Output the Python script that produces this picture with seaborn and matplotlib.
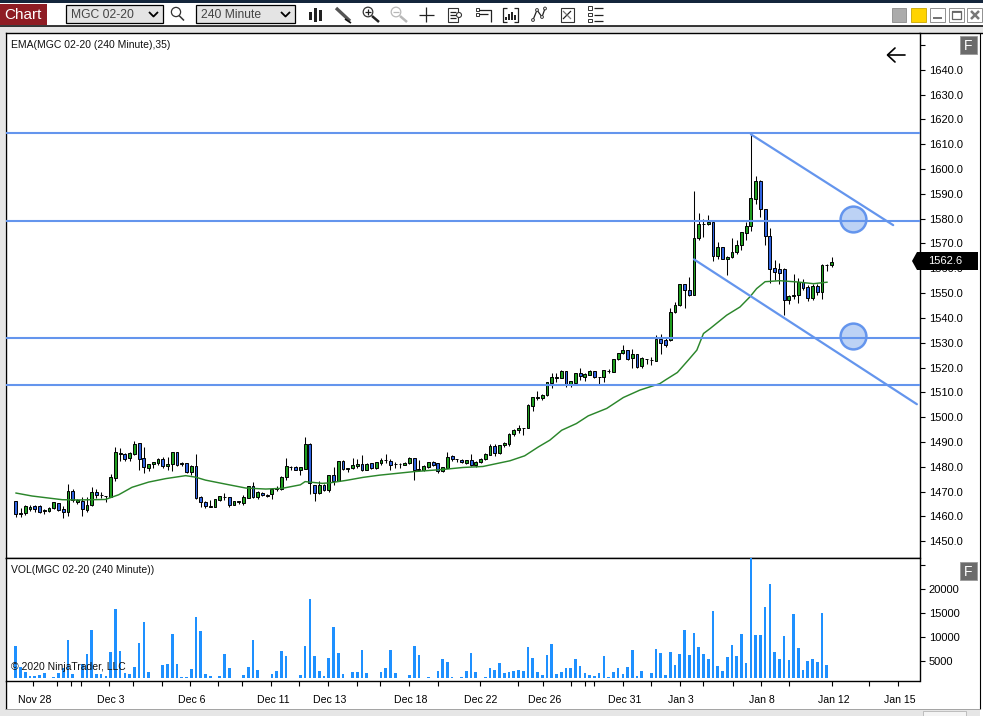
import numpy as np
import pandas as pd
import matplotlib
matplotlib.use("Agg")
import matplotlib.pyplot as plt
from matplotlib.patches import Rectangle, Polygon, Circle
from matplotlib.transforms import ScaledTranslation
import seaborn as sns

# ---------- data ----------
opens = [1466.0,1461.2,1461.3,1462.9,1464.0,1464.1,1462.3,1462.3,1463.2,1465.4,1462.9,1461.6,1470.1,1465.8,1466.0,1462.4,1464.4,1469.7,1468.7,1468.0,
1467.9,1475.4,1485.1,1485.1,1483.4,1485.2,1489.4,1483.4,1479.6,1480.9,1481.6,1483.2,1480.4,1480.9,1485.8,1481.2,1481.3,1478.0,1480.1,1467.6,
1465.9,1463.9,1463.9,1466.7,1467.8,1467.6,1464.7,1465.9,1465.5,1467.5,1472.3,1467.9,1469.4,1468.7,1468.9,1471.2,1470.9,1475.8,1479.9,1479.7,
1478.8,1479.1,1489.0,1472.5,1469.3,1472.5,1470.5,1476.6,1474.3,1482.2,1478.9,1479.3,1480.2,1481.0,1478.8,1481.3,1479.3,1481.4,1482.6,1482.2,
1481.0,1480.9,1480.6,1481.4,1483.5,1478.8,1478.6,1479.7,1482.1,1481.3,1478.2,1479.6,1484.5,1483.0,1482.9,1481.7,1482.9,1480.6,1482.0,1483.1,
1484.8,1488.3,1485.6,1488.6,1489.1,1493.0,1494.9,1495.7,1495.7,1504.5,1507.8,1507.8,1508.8,1513.8,1515.9,1515.8,1518.5,1512.9,1513.7,1517.7,
1516.2,1516.9,1518.5,1516.1,1516.2,1518.5,1518.2,1523.5,1525.9,1527.2,1523.7,1525.4,1520.5,1523.4,1523.0,1522.7,1531.4,1531.0,1531.0,1542.2,
1545.0,1553.8,1551.4,1549.4,1572.2,1577.9,1577.9,1578.7,1565.0,1568.7,1563.9,1564.6,1566.6,1569.4,1574.3,1577.1,1588.0,1595.3,1584.1,1573.2,
1560.3,1559.9,1559.9,1547.1,1549.0,1549.3,1554.6,1552.4,1547.9,1553.0,1550.6,1561.4,1561.5]
highs = [1466.0,1463.3,1464.6,1464.6,1464.7,1464.6,1463.1,1463.6,1465.6,1465.4,1464.1,1472.9,1471.0,1467.0,1467.9,1467.9,1471.8,1470.9,1469.8,1468.0,
1476.9,1487.8,1487.5,1485.4,1485.9,1490.2,1489.4,1487.8,1480.9,1482.0,1483.4,1484.0,1484.0,1485.8,1485.8,1481.9,1481.6,1480.7,1485.1,1468.2,
1466.2,1466.6,1467.1,1468.0,1469.3,1467.6,1466.2,1466.2,1468.4,1472.3,1473.8,1470.3,1469.8,1468.9,1471.4,1472.1,1476.1,1483.6,1480.3,1480.3,
1479.7,1491.8,1489.4,1472.5,1474.2,1472.9,1476.6,1480.0,1482.2,1482.7,1479.6,1483.5,1483.3,1484.7,1481.3,1481.3,1481.8,1483.7,1485.1,1483.3,
1482.0,1481.3,1481.8,1484.0,1483.7,1482.9,1480.6,1482.1,1482.2,1481.6,1480.0,1485.9,1484.7,1483.3,1483.3,1482.9,1485.1,1482.2,1483.7,1485.6,
1489.1,1489.1,1488.7,1490.0,1493.4,1495.4,1497.0,1495.8,1505.1,1508.2,1510.5,1509.2,1514.3,1517.7,1517.6,1518.8,1518.5,1514.5,1517.8,1519.6,
1517.8,1518.9,1518.5,1516.2,1518.9,1519.2,1523.6,1525.9,1529.0,1527.2,1527.6,1525.4,1524.3,1523.6,1524.3,1533.0,1533.7,1532.3,1543.8,1546.5,
1553.8,1553.8,1556.3,1591.0,1582.4,1579.8,1581.4,1579.6,1570.5,1568.7,1564.8,1572.4,1571.3,1574.7,1578.6,1613.7,1597.1,1595.7,1584.1,1576.4,
1563.5,1562.2,1560.3,1549.1,1557.5,1555.9,1555.5,1553.2,1553.8,1553.8,1561.9,1561.9,1564.5]
lows = [1459.9,1459.6,1460.5,1462.3,1461.9,1461.5,1461.1,1461.9,1463.1,1462.3,1459.5,1460.1,1465.9,1465.1,1460.1,1461.9,1464.1,1467.5,1467.5,1465.9,
1467.6,1474.4,1482.4,1482.4,1482.4,1484.8,1478.7,1477.3,1478.3,1479.6,1480.7,1479.6,1478.7,1478.4,1480.4,1480.3,1477.6,1476.6,1467.1,1463.9,
1463.5,1463.9,1463.7,1466.2,1466.6,1463.9,1464.6,1464.8,1464.7,1467.4,1467.2,1467.1,1468.2,1467.9,1467.1,1470.2,1470.6,1474.6,1478.7,1478.7,
1476.6,1478.9,1469.0,1466.3,1469.0,1470.3,1470.0,1472.6,1474.2,1478.6,1477.7,1478.9,1479.3,1478.4,1478.6,1478.9,1479.0,1480.6,1481.7,1478.6,
1479.6,1479.3,1480.5,1481.0,1474.6,1478.2,1478.4,1479.3,1480.2,1477.5,1478.0,1479.3,1482.4,1481.8,1481.6,1481.0,1480.2,1480.0,1481.3,1482.7,
1484.7,1484.4,1485.3,1488.0,1488.3,1492.3,1493.4,1492.7,1495.5,1502.5,1507.1,1507.1,1508.4,1511.8,1514.2,1515.6,1512.2,1512.2,1513.5,1514.9,
1514.5,1516.8,1515.8,1513.5,1514.1,1517.6,1518.0,1523.2,1525.6,1522.9,1519.6,1520.0,1519.6,1521.6,1520.9,1522.5,1525.6,1528.3,1530.7,1541.8,
1544.9,1543.8,1548.7,1549.3,1571.6,1572.6,1577.3,1563.0,1563.9,1563.8,1557.2,1564.3,1565.9,1567.3,1571.3,1575.1,1586.1,1580.6,1569.3,1554.1,
1555.2,1553.8,1541.1,1545.5,1547.8,1546.0,1551.2,1547.0,1547.4,1549.1,1547.6,1558.9,1560.6]
closes = [1461.1,1461.1,1464.0,1463.9,1463.1,1461.9,1462.5,1463.5,1465.6,1462.5,1461.9,1470.1,1466.4,1466.6,1462.8,1464.6,1469.7,1468.4,1468.8,1468.0,
1475.7,1485.8,1485.4,1483.2,1485.5,1489.1,1483.2,1480.0,1480.9,1481.9,1483.0,1480.4,1480.9,1485.8,1480.8,1481.3,1478.0,1480.3,1467.5,1465.6,
1464.1,1464.1,1466.8,1468.0,1467.9,1464.7,1466.2,1466.0,1467.8,1472.1,1467.8,1469.8,1468.7,1468.2,1471.0,1471.3,1475.8,1480.1,1480.0,1478.8,
1479.7,1489.0,1473.3,1469.3,1472.5,1470.7,1476.6,1474.3,1482.2,1478.9,1479.6,1480.5,1480.9,1478.6,1481.2,1479.3,1481.8,1482.7,1482.7,1480.6,
1481.1,1481.2,1481.7,1483.5,1478.6,1478.9,1480.2,1482.1,1480.6,1478.4,1479.7,1484.1,1483.2,1483.2,1482.0,1482.8,1480.6,1482.0,1483.3,1485.1,
1488.3,1485.6,1488.6,1489.6,1493.0,1495.0,1495.8,1495.8,1504.8,1508.0,1508.3,1509.1,1514.3,1516.1,1516.0,1518.5,1512.9,1514.5,1517.8,1516.6,
1517.3,1518.5,1516.2,1516.2,1518.9,1518.6,1523.6,1525.8,1527.2,1523.5,1525.4,1520.3,1523.7,1523.5,1523.1,1531.4,1529.7,1529.0,1542.2,1545.0,
1553.8,1551.4,1549.1,1572.4,1578.0,1578.0,1578.7,1565.0,1568.7,1563.8,1564.7,1566.7,1569.2,1574.5,1577.2,1588.5,1595.3,1584.1,1573.0,1559.9,
1558.5,1558.2,1547.1,1549.0,1549.4,1554.6,1552.1,1547.9,1552.8,1550.5,1561.5,1561.5,1562.6]
volume = [8137,3765,2724,1960,1960,2099,2515,1475,1752,2515,3487,9386,2307,1475,4389,6471,11468,2307,2307,1960,
6888,15840,7096,2515,2307,3765,8761,13134,2724,1475,1475,4181,4389,10635,4389,1683,1683,3348,14175,11260,
2307,1891,1475,1891,6471,3557,1475,1475,2099,3765,9386,3140,1475,1475,2307,2932,7096,6055,1475,1475,
2099,8137,17922,6055,2932,1891,5638,12093,6679,2307,1475,2724,2724,7304,2515,1475,1475,2724,3557,7304,
2515,1475,1475,2099,8137,6263,1475,1683,1475,2932,5430,4805,1683,1475,1683,2932,6679,2724,1475,1683,
3557,3140,4598,2515,2724,2932,3140,2932,7929,5638,2724,2099,6263,8553,2307,2724,3557,3557,5430,3973,
2515,2099,1891,2515,6055,1683,2724,3557,2307,3765,7304,1891,2932,1475,2515,7513,6679,2099,6888,4181,
6471,11468,6263,10844,7929,6471,5430,15424,3973,2932,5847,8345,6055,10635,4598,28000,10427,10427,16257,21045,
6888,5430,10219,5222,14800,7720,3140,5014,5430,4805,15007,4181,1475]
ema_bar = [0,3.4,9.8,13.3,18.9,21.7,24.5,28,31.6,35.8,37.9,40,44.2,48.5,52.7,56.2,60,61,64.6,66.2,69.7,73.2,76.7,83.8,90.1,94.3,98.5,
104.2,107.3,110.2,112.6,115.1,118.2,120.7,124.6,128.1,131.6,135.8,137,139.5,141.9,143.6,145,146.4,149.9,152.7,154.8,156.2,158,161.1,164.7,168.2,171.1]
ema_val = [1469.4,1468.2,1466.7,1466.6,1466.8,1468.7,1471.7,1473.8,1475.2,1476.4,1475.8,1474.6,1473.0,1471.4,1471.0,1471.3,1472.7,1474.0,1473.3,1473.5,
1474.5,1475.7,1476.6,1478.0,1478.9,1479.7,1480.1,1482.4,1484.4,1488.0,1490.7,1494.7,1497.4,1500.5,1503.5,1507.9,1510.9,1513.5,1515.0,1518.0,1523.2,
1527.0,1533.7,1535.7,1541.1,1544.4,1548.5,1551.8,1554.6,1555.0,1554.5,1553.8,1554.4]
levels = [1614.4, 1579.1, 1532.0, 1512.9]
channel_upper_bar, channel_upper_val = [155, 185], [1614.0, 1577.4]
channel_lower_bar, channel_lower_val = [143, 190], [1563.6, 1505.2]
circle_bar, circle_val = [176.5, 176.5], [1579.8, 1532.6]
price_ticks = list(range(1450, 1660, 10))
price_labels = [f"{t:.1f}" if t < 1650 else "" for t in price_ticks]
vol_ticks = [5000, 10000, 15000, 20000, 25000]
vol_labels = ["5000", "10000", "15000", "20000", ""]
date_ticks = [3.7,8.7,11.7,13.8,19.7,24.8,30.9,36.8,42.7,47.8,53.9,59.8,65.9,71.9,76.9,82.9,89,97.8,105.8,111.1,117,120,121.9,128,133.9,140,144.9,151.2,157.1,163,172.1,179.9,186]
date_names = {3.7:"Nov 28",19.7:"Dec 3",36.8:"Dec 6",53.9:"Dec 11",65.9:"Dec 13",82.9:"Dec 18",97.8:"Dec 22",111.1:"Dec 26",128:"Dec 31",140:"Jan 3",157.1:"Jan 8",172.1:"Jan 12",186:"Jan 15"}
last_price = "1562.6"

df = pd.DataFrame({"bar": np.arange(len(closes)), "open": opens, "high": highs, "low": lows, "close": closes, "volume": volume})

# ---------- style ----------
sns.set_theme(style="white")
plt.rcParams["font.family"] = ["Liberation Sans", "DejaVu Sans"]
W, H = 983, 716
FS = 8.0
FS_SMALL = 7.5
LINE = "#6495ED"
GREEN, BLUE = "#1f9e1f", "#2f62e0"

fig = plt.figure(figsize=(W/100, H/100), dpi=100, facecolor="white")

def px_axes(l, t, r, b, **kw):
    return fig.add_axes([l/W, 1-b/H, (r-l)/W, (b-t)/H], **kw)

# chrome underlay
bg = px_axes(0, 0, W, H, zorder=0); bg.set_xlim(0, W); bg.set_ylim(H, 0); bg.axis("off")
fg = px_axes(0, 0, W, H, zorder=10); fg.set_xlim(0, W); fg.set_ylim(H, 0); fg.axis("off"); fg.patch.set_alpha(0)

def rect(a, x0, y0, x1, y1, fc="none", ec="none", lw=0.0, **kw):
    a.add_patch(Rectangle((x0, y0), x1-x0, y1-y0, facecolor=fc, edgecolor=ec, linewidth=lw, **kw))

def seg(a, xs, ys, c="#222222", lw=0.9):
    a.plot(xs, ys, color=c, lw=lw, solid_capstyle="butt")

rect(bg, 0, 0, W, 2.5, fc="#14263c")
rect(bg, 0, 26, W, 33, fc="#e6e6e6")
rect(bg, 0, 26, 5, H, fc="#e6e6e6")
rect(bg, 0, 709, 980, H, fc="#e6e6e6")
rect(bg, 923, 711, 966, H, fc="#f4f4f4", ec="#b5b5b5", lw=0.6)
seg(bg, [0, W], [26, 26], c="black", lw=1.1)
seg(bg, [919, W], [33.4, 33.4], c="black", lw=1.0)
seg(bg, [5.5, 5.5], [681, 709], c="black", lw=1.0)
seg(bg, [979.5, 979.5], [33, 709], c="black", lw=0.8)
seg(bg, [5, 980], [709, 709], c="#999999", lw=0.6)

# toolbar
rect(bg, 0, 3.5, 47, 25, fc="#8f1d24")
bg.text(23, 15, "Chart", color="white", fontsize=11, ha="center", va="center")
for x0, x1, label in [(66, 163, "MGC 02-20"), (196, 295, "240 Minute")]:
    rect(bg, x0, 5, x1, 23, fc="#e4e4e4", ec="black", lw=0.9)
    bg.text(x0+5, 14.5, label, color="#444444", fontsize=8.7, va="center")
    seg(bg, [x1-14, x1-9.5, x1-5], [12, 16.5, 12], c="black", lw=1.3)
# search icon
bg.add_patch(Circle((176, 12), 4.6, fc="none", ec="#333333", lw=0.9))
seg(bg, [179, 184], [15.5, 20.5], c="#333333", lw=1.1)
# chart icons
for x, yt, yb, w in [(310.5, 12, 20, 2.4), (315.5, 8, 22, 2.4), (320.5, 10, 21, 2.4)]:
    rect(bg, x-w/2, yt, x+w/2, yb, fc="#222222")
seg(bg, [336, 350], [8, 21], c="#555555", lw=2.4)
seg(bg, [345, 351], [19, 23], c="#111111", lw=1.2)
bg.add_patch(Circle((368, 12), 4.8, fc="none", ec="#333333", lw=0.9))
seg(bg, [365, 371], [12, 12]); seg(bg, [368, 368], [9, 15])
seg(bg, [372, 379], [16, 22], c="#222222", lw=1.8)
bg.add_patch(Circle((396, 12), 4.8, fc="none", ec="#b8b8b8", lw=0.9))
seg(bg, [393, 399], [12, 12], c="#b8b8b8")
seg(bg, [400, 407], [16, 22], c="#b8b8b8", lw=1.8)
seg(bg, [419, 434], [15, 15]); seg(bg, [426, 426], [7, 22])
rect(bg, 447.5, 7.5, 458, 22, ec="#333333", lw=0.8)
seg(bg, [450, 456], [12, 12]); seg(bg, [450, 456], [15, 15]); seg(bg, [450, 456], [18, 18])
bg.add_patch(Circle((459, 15), 2.5, fc="white", ec="#333333", lw=0.8, zorder=5))
rect(bg, 475.5, 8, 479, 11, ec="#333333", lw=0.7); rect(bg, 475.5, 12.5, 479, 15.5, ec="#333333", lw=0.7)
seg(bg, [479, 491, 491], [9.5, 9.5, 22]); seg(bg, [479, 488], [14, 14])
for x, t in [(506, 17), (509, 14), (512, 12), (515, 15)]:
    rect(bg, x-0.9, t, x+0.9, 20, fc="#222222")
seg(bg, [507, 503, 503, 507], [8, 8, 22, 22]); seg(bg, [514, 518, 518, 514], [8, 8, 22, 22])
seg(bg, [533, 537, 542, 545], [20, 10, 17, 8.5])
for x, y in [(533, 20), (537, 10), (542, 17), (545, 8.5)]:
    bg.add_patch(Circle((x, y), 1.4, fc="white", ec="#333333", lw=0.7, zorder=5))
rect(bg, 560.5, 8, 574, 22, ec="#333333", lw=0.8)
seg(bg, [563, 571], [19, 11]); seg(bg, [563, 571], [11, 19], c="#777777")
for y in (8, 14.5, 20.5):
    rect(bg, 588, y-1.7, 591.5, y+1.7, ec="#333333", lw=0.7)
    seg(bg, [594, 603], [y, y])
# window buttons
rect(bg, 891.5, 8, 906, 22, fc="#ababab", ec="#8a8a8a", lw=0.6)
rect(bg, 911, 8, 925.5, 22, fc="#ffd400", ec="#c9a600", lw=0.6)
for x0 in (930, 948.5, 967):
    rect(bg, x0, 8, x0+15, 22, fc="white", ec="#909090", lw=0.7)
seg(bg, [933, 942], [18, 18], c="#666666", lw=1.3)
rect(bg, 951.5, 11, 960.5, 19, ec="#666666", lw=0.9)
seg(bg, [951.5, 960.5], [12, 12], c="#666666", lw=1.3)
seg(bg, [971, 979], [11, 19], c="#777777", lw=1.8); seg(bg, [971, 979], [19, 11], c="#777777", lw=1.8)

# ---------- price pane ----------
ax = px_axes(5.5, 33.4, 919.5, 558, zorder=2, facecolor="white")
vx = px_axes(5.5, 558, 919.5, 681, zorder=2, facecolor="white", sharex=ax)

ax.vlines(df["bar"], df["low"], df["high"], color="black", lw=0.75, zorder=3)
up = df["close"] >= df["open"]
body_low = df[["open", "close"]].min(axis=1)
body_h = (df["close"] - df["open"]).abs()
ax.bar(df["bar"], body_h, bottom=body_low, width=0.6,
       color=np.where(up, GREEN, BLUE), edgecolor="black", linewidth=0.7, zorder=4)

sns.lineplot(x=ema_bar, y=ema_val, ax=ax, color="#2b862b", lw=1.05, zorder=5, legend=False, errorbar=None)
sns.scatterplot(x=circle_bar, y=circle_val, ax=ax, s=345, color="#bcd2f5", edgecolor=LINE, linewidth=1.8, zorder=5.5, legend=False)
for lv in levels:
    ax.axhline(lv, color=LINE, lw=1.5, zorder=6)
sns.lineplot(x=channel_upper_bar, y=channel_upper_val, ax=ax, color=LINE, lw=1.6, zorder=6, legend=False, errorbar=None)
sns.lineplot(x=channel_lower_bar, y=channel_lower_val, ax=ax, color=LINE, lw=1.6, zorder=6, legend=False, errorbar=None)

ax.set_xlim(-2.17, 190.55)
ax.set_ylim(1443.2, 1654.7)
ax.yaxis.tick_right()
ax.set_yticks(price_ticks); ax.set_yticklabels(price_labels, fontsize=FS, color="black")
ax.tick_params(axis="y", length=3.6, width=0.8, pad=3.0, color="black", right=True, left=False)
ax.tick_params(axis="x", bottom=False, labelbottom=False)
ax.set_xlabel(""); ax.set_ylabel("")

# ---------- volume pane ----------
VOL_BASE = 1400
vx.bar(df["bar"], df["volume"]-VOL_BASE, bottom=VOL_BASE, width=0.56, color="#1E90FF", linewidth=0, zorder=3)
vx.set_ylim(833, 26458)
vx.yaxis.tick_right()
vx.set_yticks(vol_ticks); vx.set_yticklabels(vol_labels, fontsize=FS, color="black")
vx.tick_params(axis="y", length=3.6, width=0.8, pad=3.0, color="black", right=True, left=False)
vx.set_xticks(date_ticks)
vx.set_xticklabels([date_names.get(t, "") for t in date_ticks], fontsize=FS_SMALL+0.1, color="black")
vx.tick_params(axis="x", length=3.6, width=0.8, pad=6.2, color="black", bottom=True)
vx.set_xlabel(""); vx.set_ylabel("")
shift = ScaledTranslation(1.5/100, 0, fig.dpi_scale_trans)
for lab in vx.get_xticklabels():
    lab.set_transform(lab.get_transform() + shift)

for a in (ax, vx):
    for s in a.spines.values():
        s.set_visible(True); s.set_color("black"); s.set_linewidth(1.0)

# ---------- overlay texts ----------
fg.text(11, 45, "EMA(MGC 02-20 (240 Minute),35)", fontsize=FS_SMALL, va="center", color="#111111")
fg.text(11, 570, "VOL(MGC 02-20 (240 Minute))", fontsize=FS_SMALL, va="center", color="#111111")
fg.text(11, 667, "\u00a9 2020 NinjaTrader, LLC", fontsize=FS_SMALL, va="center", color="#111111")
# back arrow drawn as strokes
fg.plot([887.5, 905], [55, 55], color="black", lw=1.2)
fg.plot([895, 887.5, 895], [48, 55, 62], color="black", lw=1.2)
for y0 in (36, 562):
    rect(fg, 960, y0, 977, y0+18, fc="#6b6b6b", ec="#9a9a9a", lw=0.6)
    fg.text(968.5, y0+9.5, "F", color="white", fontsize=10, ha="center", va="center")
fg.add_patch(Polygon([(912, 261), (917, 252), (978, 252), (978, 270), (917, 270)], closed=True, fc="black", ec="none"))
fg.text(945, 261.5, last_price, color="white", fontsize=FS, ha="center", va="center")
fg.set_xlim(0, W); fg.set_ylim(H, 0)

fig.savefig("out.png", dpi=100, facecolor="white")
